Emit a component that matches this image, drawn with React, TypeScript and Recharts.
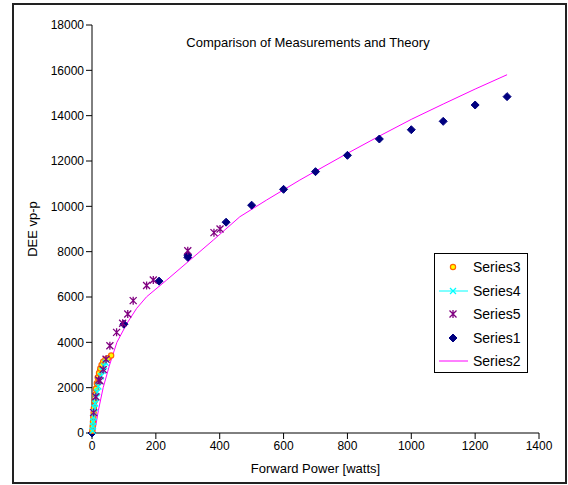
import React from 'react';
import { ScatterChart, Scatter, XAxis, YAxis } from 'recharts';

// Series1 - measured (navy diamonds)
const s1X = [0, 30, 100, 210, 300, 300, 420, 500, 600, 700, 800, 900, 1000, 1100, 1200, 1300];
const s1Y = [0, 2800, 4800, 6700, 7850, 7750, 9300, 10050, 10750, 11530, 12250, 12970, 13380, 13750, 14470, 14840];

// Series2 - theory (magenta line)
const s2X = [8, 20, 35, 55, 78, 110, 140, 171, 234, 307, 380, 463, 547, 651, 700, 800, 900, 1000, 1100, 1200, 1300];
const s2Y = [0, 1000, 2000, 3000, 4000, 4850, 5500, 6010, 6750, 7630, 8513, 9540, 10280, 11160, 11550, 12338, 13100, 13837, 14512, 15174, 15806];

// Series3 - circles
const s3X = [1, 2, 3, 4, 5, 6, 8, 10, 12, 15, 18, 22, 26, 30, 35, 42, 50, 60];
const s3Y = [100, 300, 500, 700, 900, 1100, 1400, 1700, 1950, 2200, 2450, 2650, 2850, 3000, 3150, 3250, 3300, 3420];

// Series4 - cyan crosses with line
const s4X = [2, 3, 4, 5, 6, 8, 10, 13, 16, 20, 24, 28, 33, 38, 43];
const s4Y = [100, 300, 500, 700, 900, 1100, 1300, 1550, 1800, 2050, 2300, 2500, 2750, 2950, 3100];

// Series5 - purple asterisks
const s5X = [5, 12, 21, 25, 35, 44, 56, 77, 96, 112, 129, 171, 192, 300, 382, 401];
const s5Y = [900, 1600, 2340, 2300, 2800, 3250, 3850, 4440, 4840, 5250, 5840, 6510, 6750, 8040, 8840, 9000];

const xTicks = [0, 200, 400, 600, 800, 1000, 1200, 1400];
const yTicks = [0, 2000, 4000, 6000, 8000, 10000, 12000, 14000, 16000, 18000];

const zip = (xs: number[], ys: number[]) => xs.map((x, i) => ({ x, y: ys[i] }));

const FONT = '"Liberation Sans", Arial, sans-serif';

const Diamond = ({ cx, cy }: any) => (
  <polygon
    points={`${cx},${cy - 4} ${cx + 4},${cy} ${cx},${cy + 4} ${cx - 4},${cy}`}
    fill="#000080"
    stroke="#000080"
  />
);

const Circle = ({ cx, cy }: any) => (
  <circle cx={cx} cy={cy} r={2.6} fill="#FFFF00" stroke="#FF6600" strokeWidth={1.2} />
);

const Cross = ({ cx, cy }: any) => (
  <path
    d={`M${cx - 3},${cy - 3}L${cx + 3},${cy + 3}M${cx - 3},${cy + 3}L${cx + 3},${cy - 3}`}
    stroke="#00FFFF"
    strokeWidth={1.3}
  />
);

const Star = ({ cx, cy }: any) => (
  <path
    d={`M${cx - 3.5},${cy - 3.5}L${cx + 3.5},${cy + 3.5}M${cx - 3.5},${cy + 3.5}L${cx + 3.5},${cy - 3.5}M${cx},${cy - 4}L${cx},${cy + 4}`}
    stroke="#800080"
    strokeWidth={1.3}
  />
);

const NoDot = () => <g />;

const legendItems = [
  { name: 'Series3', kind: 'circle' },
  { name: 'Series4', kind: 'cross' },
  { name: 'Series5', kind: 'star' },
  { name: 'Series1', kind: 'diamond' },
  { name: 'Series2', kind: 'line' },
];

const LegendBox = () => (
  <div
    style={{
      position: 'absolute',
      left: 434,
      top: 253,
      width: 92,
      height: 118,
      border: '1px solid #000',
      background: '#fff',
      fontFamily: FONT,
      fontSize: 14,
    }}
  >
    {legendItems.map((it, i) => (
      <div key={it.name} style={{ position: 'absolute', left: 0, top: 3 + i * 23.5, height: 20, display: 'flex', alignItems: 'center' }}>
        <svg width={36} height={20}>
          {it.kind === 'circle' && <Circle cx={18} cy={10} />}
          {it.kind === 'cross' && (
            <>
              <line x1={4} y1={10} x2={33} y2={10} stroke="#00FFFF" />
              <Cross cx={18} cy={10} />
            </>
          )}
          {it.kind === 'star' && <Star cx={18} cy={10} />}
          {it.kind === 'diamond' && <Diamond cx={18} cy={10} />}
          {it.kind === 'line' && <line x1={4} y1={10} x2={33} y2={10} stroke="#FF00FF" />}
        </svg>
        <span style={{ marginLeft: 2 }}>{it.name}</span>
      </div>
    ))}
  </div>
);

const tick = { fill: '#000', fontSize: 12, fontFamily: FONT };

export default function App() {
  return (
    <div style={{ position: 'absolute', left: 0, top: 0, width: 568, height: 485, background: '#fff', overflow: 'hidden' }}>
      <div
        style={{
          position: 'absolute',
          left: 12,
          top: 3,
          width: 551,
          height: 477,
          border: '2px solid #222',
        }}
      />
      <div style={{ position: 'absolute', left: 0, top: 0 }}>
        <ScatterChart width={568} height={485} margin={{ top: 25, right: 29, bottom: 22, left: 32 }}>
          <XAxis
            type="number"
            dataKey="x"
            domain={[0, 1400]}
            ticks={xTicks}
            tick={tick}
            tickLine={{ stroke: '#000' }}
            axisLine={{ stroke: '#000' }}
            height={30}
            label={{ value: 'Forward Power [watts]', position: 'insideBottom', offset: -10, fill: '#000', fontSize: 13, fontFamily: FONT }}
          />
          <YAxis
            type="number"
            dataKey="y"
            domain={[0, 18000]}
            ticks={yTicks}
            tick={tick}
            tickLine={{ stroke: '#000' }}
            axisLine={{ stroke: '#000' }}
            width={60}
            label={{ value: 'DEE vp-p', angle: -90, position: 'insideLeft', offset: 0, fill: '#000', fontSize: 13, fontFamily: FONT, style: { textAnchor: 'middle' } }}
          />
          <Scatter name="Series2" data={zip(s2X, s2Y)} line={{ stroke: '#FF00FF', strokeWidth: 1 }} shape={NoDot} isAnimationActive={false} />
          <Scatter name="Series1" data={zip(s1X, s1Y)} shape={Diamond} isAnimationActive={false} />
          <Scatter name="Series3" data={zip(s3X, s3Y)} shape={Circle} isAnimationActive={false} />
          <Scatter name="Series4" data={zip(s4X, s4Y)} line={{ stroke: '#00FFFF', strokeWidth: 1 }} shape={Cross} isAnimationActive={false} />
          <Scatter name="Series5" data={zip(s5X, s5Y)} shape={Star} isAnimationActive={false} />
        </ScatterChart>
      </div>
      <div
        style={{
          position: 'absolute',
          left: 0,
          width: 616,
          top: 35,
          textAlign: 'center',
          fontFamily: FONT,
          fontSize: 13,
          color: '#000',
        }}
      >
        Comparison of Measurements and Theory
      </div>
      <LegendBox />
    </div>
  );
}
